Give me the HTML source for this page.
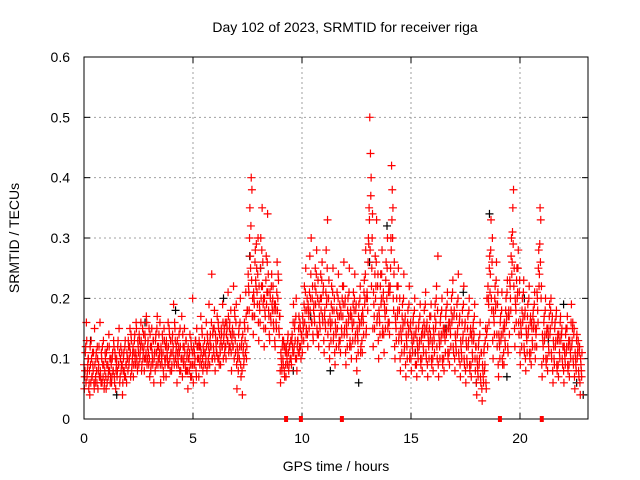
<!DOCTYPE html>
<html><head><meta charset="utf-8"><style>
body{margin:0;background:#fff;}
svg{display:block;font-family:"Liberation Sans",sans-serif;}
</style></head><body>
<svg id="chart" width="640" height="480" xmlns="http://www.w3.org/2000/svg">
<rect width="640" height="480" fill="#fff"/>
<text x="345" y="32" font-size="14" text-anchor="middle">Day 102 of 2023, SRMTID for receiver riga</text>
<text x="19" y="238" font-size="14" text-anchor="middle" transform="rotate(-90 19 238)">SRMTID / TECUs</text>
<text x="336" y="471" font-size="14" text-anchor="middle">GPS time / hours</text>
<g id="grid"></g>
<g id="ticks"></g>
<g id="black"></g>
<g id="red"></g>
<rect x="84" y="57" width="504" height="362" fill="none" stroke="#000" stroke-width="1"/>
<g id="marks"></g>
</svg>
<script>
const xTicks=[0,5,10,15,20];
const yTicks=[0,0.1,0.2,0.3,0.4,0.5,0.6];
const yTickLabels=["0","0.1","0.2","0.3","0.4","0.5","0.6"];
const binStarts=[];for(let i=0;i<92;i++)binStarts.push(i*0.25);
const redBins=[
[5,8,12,16,7,9,10,6],[4,9,13,7,11,8,6,15],[6,10,8,12,5,9,7,16],[7,11,6,9,13,5,8,10],
[5,9,12,7,14,8,6,10],[6,10,8,13,7,11,5,9],[7,12,9,15,6,10,8,11],[4,8,11,7,13,9,6,10],
[8,12,10,15,7,13,9,11],[7,11,14,9,16,10,8,12],[9,13,11,16,8,12,10,14],[8,14,10,17,9,12,11,15],
[7,12,9,15,10,13,6,11],[8,14,11,17,9,12,10,16],[6,11,9,13,8,15,10,12],[7,12,10,16,9,14,8,11],
[8,13,11,19,9,15,10,12],[6,11,9,14,8,12,10,17],[7,12,10,15,9,13,8,11],[5,10,8,14,7,12,9,20],
[6,11,9,13,8,15,10,12],[7,12,10,17,9,14,8,11],[6,11,9,16,8,13,10,19],[9,14,12,24,10,15,11,18],
[8,13,11,17,10,15,9,12],[9,15,12,19,10,14,11,16],[10,16,13,21,11,15,12,18],[8,14,12,22,10,17,11,19],
[5,10,8,15,12,20,7,13],[4,11,9,16,13,21,10,18],[15,22,18,35,25,40,38,20],[14,20,17,28,22,25,19,30],
[13,19,16,30,22,35,26,20],[12,18,15,27,21,34,24,17],[13,20,16,24,18,22,15,19],[12,18,15,26,20,23,14,17],
[6,10,8,13,9,12,7,11],[7,11,9,14,8,12,10,13],[9,14,11,19,12,16,10,20],[8,13,11,17,12,15,10,14],
[11,16,13,22,18,25,15,20],[12,18,15,27,20,30,16,22],[13,19,16,25,21,28,14,23],[12,17,15,24,20,26,16,22],
[11,18,15,28,20,33,16,23],[10,16,13,22,18,25,14,20],[9,15,12,21,17,24,13,19],[11,17,14,22,19,26,15,20],
[9,15,12,20,17,25,13,18],[10,16,13,21,18,24,14,19],[8,14,11,19,16,22,12,17],[11,17,14,23,20,28,15,21],
[18,30,35,50,44,40,25,34],[12,19,15,27,22,33,17,24],[10,17,14,24,20,28,15,21],[11,18,15,26,20,30,16,22],
[14,22,30,42,38,35,18,26],[10,16,13,22,18,25,14,20],[8,14,11,19,16,24,12,17],[7,13,10,18,15,22,11,16],
[8,13,11,17,14,20,9,15],[7,12,10,16,13,19,9,14],[8,14,11,18,15,21,10,16],[7,13,10,17,14,19,9,12],
[8,14,11,19,16,22,10,27],[7,13,10,17,14,20,9,15],[8,14,11,18,15,21,10,16],[9,15,12,20,17,23,11,18],
[8,13,11,19,15,24,10,17],[7,12,10,18,14,22,9,16],[6,12,9,17,13,20,8,15],[7,13,10,16,14,19,8,12],
[4,9,7,13,10,16,6,11],[3,8,6,12,9,15,5,20],[12,20,16,27,24,33,18,30],[10,17,14,22,19,26,12,21],
[7,13,10,17,14,21,9,15],[9,15,12,20,17,23,11,18],[14,22,18,30,26,35,38,25],[12,19,16,25,21,28,14,23],
[9,15,12,20,17,23,11,18],[8,14,11,19,15,22,10,17],[9,15,12,18,16,21,10,14],[12,20,16,28,24,35,33,22],
[7,13,10,17,14,20,9,15],[8,14,11,19,15,20,10,17],[6,12,9,16,13,18,8,14],[7,13,10,17,14,15,9,12],
[6,11,9,15,12,17,8,13],[7,12,10,19,13,16,9,15],[5,10,8,14,11,13,7,12],[4,9,7,12,10,11,6,8]];
const redBins2=[
[9,7,11,6,13,8,10,5],[8,12,6,10,7,9,11,5],[9,7,11,6,10,8,12,7],[8,6,10,12,7,9,6,11],
[7,11,6,9,8,12,10,7],[9,7,11,8,12,6,10,8],[10,8,13,9,11,7,12,9],[9,6,10,8,12,7,9,11],
[10,13,9,12,11,14,8,10],[12,9,13,10,11,15,9,13],[11,14,10,12,13,9,15,11],[12,10,13,11,16,10,13,9],
[10,14,8,12,11,9,13,10],[11,13,9,15,12,10,14,11],[9,12,10,14,11,7,13,9],[10,13,11,9,12,15,10,13],
[11,9,14,12,10,16,13,11],[9,13,10,12,11,15,8,10],[10,14,9,12,11,8,13,10],[8,12,10,11,9,13,7,11],
[9,12,11,10,13,7,12,10],[10,13,9,12,11,15,10,12],[9,13,11,10,12,14,9,12],[11,13,12,16,10,14,12,15],
[10,14,12,11,13,16,10,14],[11,13,14,12,16,13,15,12],[12,14,15,13,17,12,16,14],[11,13,15,12,14,18,13,16],
[9,12,11,14,10,16,9,12],[8,14,12,10,15,11,17,12],[18,24,21,30,27,32,23,17],[17,21,19,26,23,29,21,24],
[16,22,18,25,20,28,22,19],[15,20,17,23,19,26,21,18],[14,21,17,22,19,20,16,18],[13,19,16,21,18,24,15,17],
[8,11,9,12,10,13,8,12],[9,12,10,13,11,9,12,10],[10,13,12,16,11,15,13,17],[10,12,13,15,11,16,12,14],
[13,17,15,19,16,21,14,18],[14,19,17,21,18,24,16,20],[14,18,17,22,19,24,15,20],[14,19,16,20,18,23,17,21],
[13,17,16,21,19,25,14,20],[12,17,15,19,16,21,13,18],[11,16,14,18,15,20,12,17],[13,18,15,20,17,22,14,19],
[11,16,14,18,16,21,12,17],[12,17,15,19,16,20,13,18],[10,15,13,17,15,20,11,16],[13,18,16,21,19,24,14,20],
[20,26,29,33,28,37,22,30],[15,21,17,24,20,26,16,22],[13,18,16,22,19,24,14,20],[14,19,17,23,18,25,15,21],
[16,21,25,28,33,30,20,24],[12,17,15,20,17,22,13,18],[10,15,13,17,15,20,11,16],[9,14,12,16,14,19,10,15],
[10,14,12,16,13,18,11,14],[9,13,11,15,12,17,10,13],[10,15,12,16,14,19,11,15],[9,14,12,15,13,17,10,13],
[10,15,13,17,15,20,12,18],[9,14,12,16,13,18,10,14],[10,15,13,17,14,19,11,15],[11,16,14,18,16,21,12,17],
[10,14,12,17,14,20,11,16],[9,13,11,16,13,19,10,15],[8,13,10,15,12,18,9,14],[9,14,11,15,13,17,10,12],
[6,10,8,12,9,14,7,11],[5,9,7,11,8,13,6,14],[15,22,19,25,21,28,20,26],[13,18,16,20,18,23,14,19],
[9,14,12,16,13,18,10,14],[11,16,13,18,16,21,12,17],[17,23,20,27,24,31,29,22],[15,20,18,23,20,25,16,21],
[11,16,14,18,16,21,12,17],[10,15,13,17,14,20,11,16],[11,16,13,17,15,19,12,15],[15,21,18,25,22,29,26,20],
[9,14,12,16,13,18,10,14],[10,15,12,17,14,18,11,16],[8,13,10,15,12,17,9,13],[9,14,11,16,13,14,10,12],
[8,12,10,14,11,15,9,12],[9,13,11,16,12,15,10,14],[7,11,9,13,10,12,8,11],[6,10,8,11,9,10,7,9]];
const blackTimes=[0.3,1.5,2.8,4.2,6.4,7.6,8.1,9.6,10.4,11.3,12.6,13.1,13.9,15.2,16.6,17.4,18.0,18.6,19.4,20.2,21.3,22.0,22.6,22.9];
const blackValues=[0.13,0.04,0.16,0.18,0.20,0.27,0.25,0.08,0.17,0.08,0.06,0.26,0.32,0.11,0.15,0.21,0.06,0.34,0.07,0.20,0.13,0.19,0.06,0.04];
const gapTimes=[9.27,9.95,11.83,19.08,21.0];
const X0=84,X1=588,XMAX=23.12,Y0=419,Y1=57,YMAX=0.6;
const xs=v=>X0+(X1-X0)*v/XMAX;
const ys=v=>Y0-(Y0-Y1)*v/YMAX;
const NS="http://www.w3.org/2000/svg";
function mk(tag,attrs,parent){const e=document.createElementNS(NS,tag);for(const k in attrs)e.setAttribute(k,attrs[k]);parent.appendChild(e);return e;}
const grid=document.getElementById('grid'),ticks=document.getElementById('ticks');
xTicks.forEach(t=>{
  const x=xs(t);
  if(t>0){const g=mk('line',{x1:x,x2:x,y1:Y1,y2:Y0,stroke:'#a0a0a0','stroke-dasharray':'2,3'},grid);
  
  }
  mk('line',{x1:x,x2:x,y1:Y0,y2:Y0-6,stroke:'#000'},ticks);
  mk('line',{x1:x,x2:x,y1:Y1,y2:Y1+6,stroke:'#000'},ticks);
  const l=mk('text',{x:x,y:Y0+24,'font-size':14,'text-anchor':'middle'},ticks);l.textContent=t;
  
  
});
yTicks.forEach((t,i)=>{
  const y=ys(t);
  if(t>0&&t<0.6){const g=mk('line',{x1:X0,x2:X1,y1:y,y2:y,stroke:'#a0a0a0','stroke-dasharray':'2,3'},grid);
  
  }
  mk('line',{x1:X0,x2:X0+6,y1:y,y2:y,stroke:'#000'},ticks);
  mk('line',{x1:X1,x2:X1-6,y1:y,y2:y,stroke:'#000'},ticks);
  const l=mk('text',{x:X0-14,y:y+5,'font-size':14,'text-anchor':'end'},ticks);l.textContent=yTickLabels[i];
  
  
});
function plus(g,x,y,c){return mk('path',{d:`M${x-4} ${y}h8M${x} ${y-4}v8`,stroke:c,'stroke-width':1.2,fill:'none'},g);}
const blk=document.getElementById('black');
blackTimes.forEach((t,i)=>{const p=plus(blk,xs(t),ys(blackValues[i]),'#000');

});
const red=document.getElementById('red');
[[redBins,0.5],[redBins2,0]].forEach(([bins,off])=>{
bins.forEach((vals,b)=>{vals.forEach((v,i)=>{
  const t=binStarts[b]+(i+off)/vals.length*0.25;
  if(t>22.85)return;
  const p=plus(red,xs(t),ys(v/100),'#ff0000');
  
  
});});});
const marks=document.getElementById('marks');
gapTimes.forEach(t=>{const r=mk('rect',{x:xs(t)-2,y:Y0-3,width:4,height:6,fill:'#ff0000'},marks);

});
</script>
</body></html>
